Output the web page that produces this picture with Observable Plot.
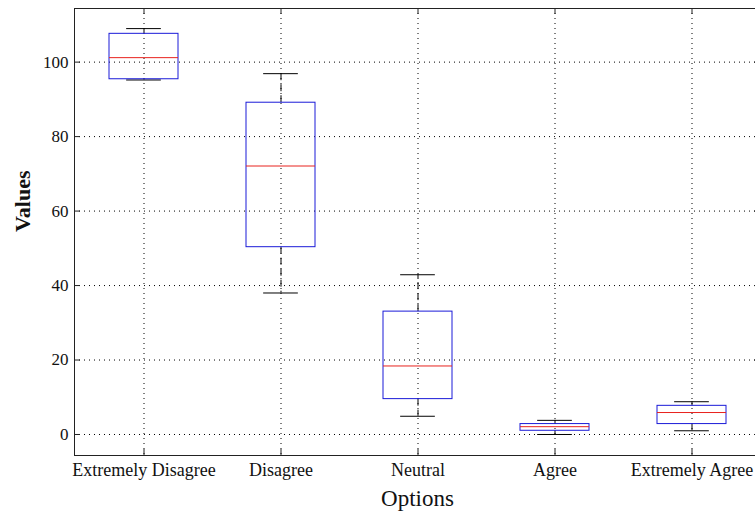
<!DOCTYPE html>
<html>
<head>
<meta charset="utf-8">
<script src="https://cdn.jsdelivr.net/npm/d3@7"></script>
<script src="https://cdn.jsdelivr.net/npm/@observablehq/plot@0.6"></script>
<style>
  html, body { margin: 0; padding: 0; background: white; overflow: hidden; }
</style>
</head>
<body>
<div id="chart"></div>
<script>
// ---- Data ----
const categories   = ["Extremely Disagree", "Disagree", "Neutral", "Agree", "Extremely Agree"];
const lowerWhisker = [95.2, 38.0, 4.9, 0.0, 1.0];
const q1           = [95.4, 50.3, 9.5, 1.0, 2.8];
const median       = [101.2, 72.1, 18.4, 2.1, 5.9];
const q3           = [107.6, 89.1, 33.0, 2.8, 7.7];
const upperWhisker = [109.0, 96.9, 42.9, 3.8, 8.8];
const yTicks       = [0, 20, 40, 60, 80, 100];
const yDomain      = [-5.64, 114.4];
const xLabel = "Options";
const yLabel = "Values";

// ---- Layout ----
const W = 760, H = 511;
const mL = 74, mR = 0, mT = 8, mB = 56;
const plotW = W - mL - mR, plotH = H - mT - mB;
const tickLen = 6;
const step = plotW / 5;
const bw = step * 0.5;

const idx = categories.map((_, i) => i);
const ink = "#222";
const blue = "#1a1ad8";
const red = "#e8221e";

const chart = Plot.plot({
  width: W, height: H,
  marginLeft: mL, marginRight: mR, marginTop: mT, marginBottom: mB,
  style: {fontFamily: "'Liberation Serif', 'Times New Roman', serif", fontSize: "18px", color: "black", background: "white", maxWidth: "none"},
  x: {type: "band", domain: categories, paddingInner: 0.5, paddingOuter: 0.25, align: 0.5, axis: null},
  y: {domain: yDomain, axis: null},
  marks: [
    // dotted grid
    Plot.ruleY(yTicks, {y: d => d, stroke: "#000", strokeWidth: 1, strokeDasharray: "1,4"}),
    Plot.ruleX(categories, {x: d => d, stroke: "#000", strokeWidth: 1, strokeDasharray: "1,4"}),
    // whiskers (dashed)
    Plot.ruleX(idx, {x: i => categories[i], y1: i => q3[i], y2: i => upperWhisker[i], stroke: "#000", strokeDasharray: "7,4"}),
    Plot.ruleX(idx, {x: i => categories[i], y1: i => q1[i], y2: i => lowerWhisker[i], stroke: "#000", strokeDasharray: "7,4"}),
    // whisker caps
    Plot.tickY(idx, {x: i => categories[i], y: i => upperWhisker[i], stroke: "#000", insetLeft: bw / 4, insetRight: bw / 4}),
    Plot.tickY(idx, {x: i => categories[i], y: i => lowerWhisker[i], stroke: "#000", insetLeft: bw / 4, insetRight: bw / 4}),
    // boxes
    Plot.barY(idx, {x: i => categories[i], y1: i => q1[i], y2: i => q3[i], fill: "none", stroke: blue, strokeWidth: 1}),
    // medians
    Plot.tickY(idx, {x: i => categories[i], y: i => median[i], stroke: red, strokeWidth: 1}),
    // inward tick marks
    Plot.ruleY(yTicks, {y: d => d, stroke: ink, insetRight: plotW - tickLen}),
    Plot.ruleY(yTicks, {y: d => d, stroke: ink, insetLeft: plotW - tickLen}),
    Plot.ruleX(categories, {x: d => d, stroke: ink, insetTop: plotH - tickLen}),
    Plot.ruleX(categories, {x: d => d, stroke: ink, insetBottom: plotH - tickLen}),
    // frame
    Plot.frame({stroke: ink, strokeWidth: 1}),
    // tick labels
    Plot.text(yTicks, {y: d => d, text: d => String(d), frameAnchor: "left", textAnchor: "end", dx: -6, fontSize: 17, fill: "#111"}),
    Plot.text(categories, {x: d => d, text: d => d, frameAnchor: "bottom", lineAnchor: "top", dy: 8, fontSize: 18, fill: "#111"}),
    // axis labels
    Plot.text([yLabel], {text: d => d, frameAnchor: "left", dx: -52, rotate: -90, fontWeight: "bold", fontSize: 22, fill: "#111"}),
    Plot.text([xLabel], {text: d => d, frameAnchor: "bottom", lineAnchor: "bottom", dy: 50, fontSize: 23, fill: "#111"})
  ]
});
document.getElementById("chart").appendChild(chart);
</script>
</body>
</html>
